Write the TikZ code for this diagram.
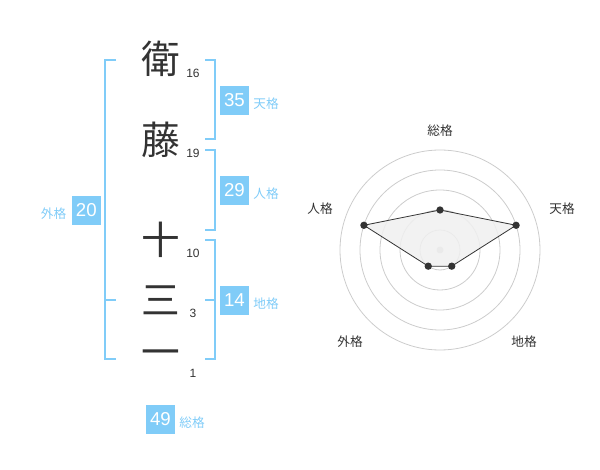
\documentclass[tikz,border=0pt]{standalone}
\usepackage{fontspec}
\setmainfont{Liberation Sans}
\newfontfamily\jp{Noto Sans CJK JP}
\definecolor{sky}{RGB}{128,204,248}
\definecolor{ink}{RGB}{51,51,51}
\definecolor{ring}{RGB}{204,204,204}
\definecolor{area}{RGB}{240,240,240}
\begin{document}
\begin{tikzpicture}[x=0.75pt,y=-0.75pt,
  kanji/.style={inner sep=0pt,text=ink,font=\jp\fontsize{29}{30}\selectfont},
  stroke/.style={inner sep=0pt,text=ink,font=\fontsize{9}{10}\selectfont},
  numbox/.style={fill=sky,text=white,minimum width=21.75pt,minimum height=21.75pt,inner sep=0pt,font=\fontsize{14}{15}\selectfont},
  kaku/.style={inner sep=0pt,text=sky,font=\jp\fontsize{9.5}{10}\selectfont},
  bracket/.style={draw=sky,line width=1.8pt},
  radarlabel/.style={inner sep=0pt,text=ink,font=\jp\fontsize{9.5}{10}\selectfont},
  dot/.style={circle,fill=ink,inner sep=0pt,minimum size=5.5pt}]
\useasboundingbox (0,0) rectangle (600,470);
% kanji
\node[kanji] (k1) at (161,59) {衛};
\node[kanji] (k2) at (161,140) {藤};
\node[kanji] (k3) at (161,240) {十};
\node[kanji] (k4) at (161,300) {三};
\node[kanji] (k5) at (161,358) {一};
\node[stroke] (s1) at (193,73) {16};
\node[stroke] (s2) at (193,153) {19};
\node[stroke] (s3) at (193,253) {10};
\node[stroke] (s4) at (193,313) {3};
\node[stroke] (s5) at (193,373) {1};
% brackets
\draw[bracket] (116,60) -- (105,60) -- (105,359) -- (116,359);
\draw[bracket] (105,300) -- (116,300);
\draw[bracket] (205,60) -- (215,60) -- (215,139) -- (205,139);
\draw[bracket] (205,150) -- (215,150) -- (215,230) -- (205,230);
\draw[bracket] (205,240) -- (215,240) -- (215,359) -- (205,359);
\draw[bracket] (205,300) -- (215,300);
% boxes
\node[numbox] (b35) at (234.5,100.5) {35};
\node[kaku] (l35) at (266,104) {天格};
\node[numbox] (b29) at (234.5,190.5) {29};
\node[kaku] (l29) at (266,194) {人格};
\node[numbox] (b20) at (86.3,210.3) {20};
\node[kaku] (l20) at (53.5,213.5) {外格};
\node[numbox] (b14) at (234.5,300.3) {14};
\node[kaku] (l14) at (266,304) {地格};
\node[numbox] (b49) at (160.5,419) {49};
\node[kaku] (l49) at (192,422.5) {総格};
% radar
\coordinate (c) at (440,250);
\foreach \r in {20,40,60,80,100} \draw[ring,line width=0.6pt] (c) circle[radius=\r];
\fill[ring] (c) circle[radius=3.5];
\path (c) ++(0,-40) coordinate (pso);
\path (c) ++(-18:80) coordinate (pten);
\path (c) ++(198:80) coordinate (pjin);
\path (c) ++(126:20) coordinate (pgai);
\path (c) ++(54:20) coordinate (pchi);
\path[fill=area,fill opacity=0.85,draw=ink,line width=0.6pt] (pso) -- (pten) -- (pchi) -- (pgai) -- (pjin) -- cycle;
\foreach \p in {pso,pten,pchi,pgai,pjin} \node[dot] at (\p) {};
\node[radarlabel] (rso) at (440,131) {総格};
\node[radarlabel] (rten) at (562,208.5) {天格};
\node[radarlabel] (rjin) at (320,208.5) {人格};
\node[radarlabel] (rgai) at (350,342) {外格};
\node[radarlabel] (rchi) at (524,342) {地格};
\end{tikzpicture}
\end{document}
